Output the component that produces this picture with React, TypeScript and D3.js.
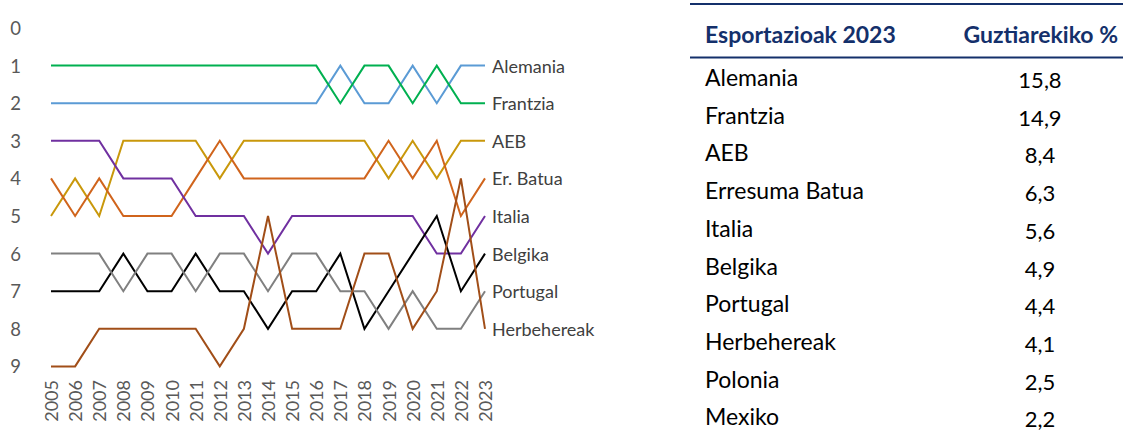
import React from "react";
import * as d3 from "d3";

const years = [2005, 2006, 2007, 2008, 2009, 2010, 2011, 2012, 2013, 2014, 2015, 2016, 2017, 2018, 2019, 2020, 2021, 2022, 2023];
const rankTicks = [0, 1, 2, 3, 4, 5, 6, 7, 8, 9];

const frantzia = [1, 1, 1, 1, 1, 1, 1, 1, 1, 1, 1, 1, 2, 1, 1, 2, 1, 2, 2];
const alemania = [2, 2, 2, 2, 2, 2, 2, 2, 2, 2, 2, 2, 1, 2, 2, 1, 2, 1, 1];
const aeb = [5, 4, 5, 3, 3, 3, 3, 4, 3, 3, 3, 3, 3, 3, 4, 3, 4, 3, 3];
const erBatua = [4, 5, 4, 5, 5, 5, 4, 3, 4, 4, 4, 4, 4, 4, 3, 4, 3, 5, 4];
const italia = [3, 3, 3, 4, 4, 4, 5, 5, 5, 6, 5, 5, 5, 5, 5, 5, 6, 6, 5];
const belgika = [7, 7, 7, 6, 7, 7, 6, 7, 7, 8, 7, 7, 6, 8, 7, 6, 5, 7, 6];
const portugal = [6, 6, 6, 7, 6, 6, 7, 6, 6, 7, 6, 6, 7, 7, 8, 7, 8, 8, 7];
const herbehereak = [9, 9, 8, 8, 8, 8, 8, 9, 8, 5, 8, 8, 8, 6, 6, 8, 7, 4, 8];

const seriesNames = ["Alemania", "Frantzia", "AEB", "Er. Batua", "Italia", "Belgika", "Portugal", "Herbehereak"];
const seriesValues = [alemania, frantzia, aeb, erBatua, italia, belgika, portugal, herbehereak];
const seriesColors = ["#5B9BD5", "#00B050", "#C9980B", "#D0641C", "#7030A0", "#000000", "#808080", "#A14E18"];

const tableHeader = ["Esportazioak 2023", "Guztiarekiko %"];
const tableCountries = ["Alemania", "Frantzia", "AEB", "Erresuma Batua", "Italia", "Belgika", "Portugal", "Herbehereak", "Polonia", "Mexiko"];
const tableShares = ["15,8", "14,9", "8,4", "6,3", "5,6", "4,9", "4,4", "4,1", "2,5", "2,2"];

const FONT = "Lato, 'Open Sans', sans-serif";
const NAVY = "#14306B";

export default function App() {
  const W = 1123;
  const H = 446;
  const x = d3.scalePoint<number>().domain(years).range([51, 485]);
  const y = d3.scaleLinear().domain([0, 9]).range([28, 366.4]);
  const line = d3
    .line<number>()
    .x((_, i) => x(years[i]) as number)
    .y((d) => y(d));

  const rowY = d3.scaleLinear().domain([0, 9]).range([86, 425.3]);

  return (
    <div style={{ position: "absolute", left: 0, top: 0 }}>
      <svg width={W} height={H} style={{ display: "block", background: "#fff" }} fontFamily={FONT}>
        {/* y ticks */}
        {rankTicks.map((r) => (
          <text key={r} x={21} y={y(r)} textAnchor="end" dominantBaseline="central" fontSize={18.5} fill="#595959">
            {r}
          </text>
        ))}
        {/* x ticks */}
        {years.map((yr) => (
          <text
            key={yr}
            transform={`translate(${x(yr)},380) rotate(-90)`}
            textAnchor="end"
            dominantBaseline="central"
            fontSize={18}
            fill="#595959"
          >
            {yr}
          </text>
        ))}
        {/* lines */}
        {seriesValues.map((vals, i) => (
          <path key={seriesNames[i]} d={line(vals) || ""} fill="none" stroke={seriesColors[i]} strokeWidth={2} strokeLinejoin="miter" />
        ))}
        {/* end labels */}
        {seriesValues.map((vals, i) => (
          <text key={"l" + i} x={492} y={y(vals[vals.length - 1])} dominantBaseline="central" fontSize={18} fill="#404040">
            {seriesNames[i]}
          </text>
        ))}

        {/* table */}
        <line x1={690} x2={1123} y1={4} y2={4} stroke={NAVY} strokeWidth={2.2} />
        <line x1={690} x2={1123} y1={57.5} y2={57.5} stroke={NAVY} strokeWidth={2.2} />
        <text x={705} y={43} fontSize={23} fontWeight="bold" fill={NAVY}>
          {tableHeader[0]}
        </text>
        <text x={1118} y={43} fontSize={23} fontWeight="bold" fill={NAVY} textAnchor="end">
          {tableHeader[1]}
        </text>
        {tableCountries.map((c, i) => (
          <text key={c} x={705} y={rowY(i)} fontSize={23} fill="#000">
            {c}
          </text>
        ))}
        {tableShares.map((v, i) => (
          <text key={"v" + i} x={1040} y={rowY(i) + 2} fontSize={22} fill="#000" textAnchor="middle">
            {v}
          </text>
        ))}
      </svg>
    </div>
  );
}
